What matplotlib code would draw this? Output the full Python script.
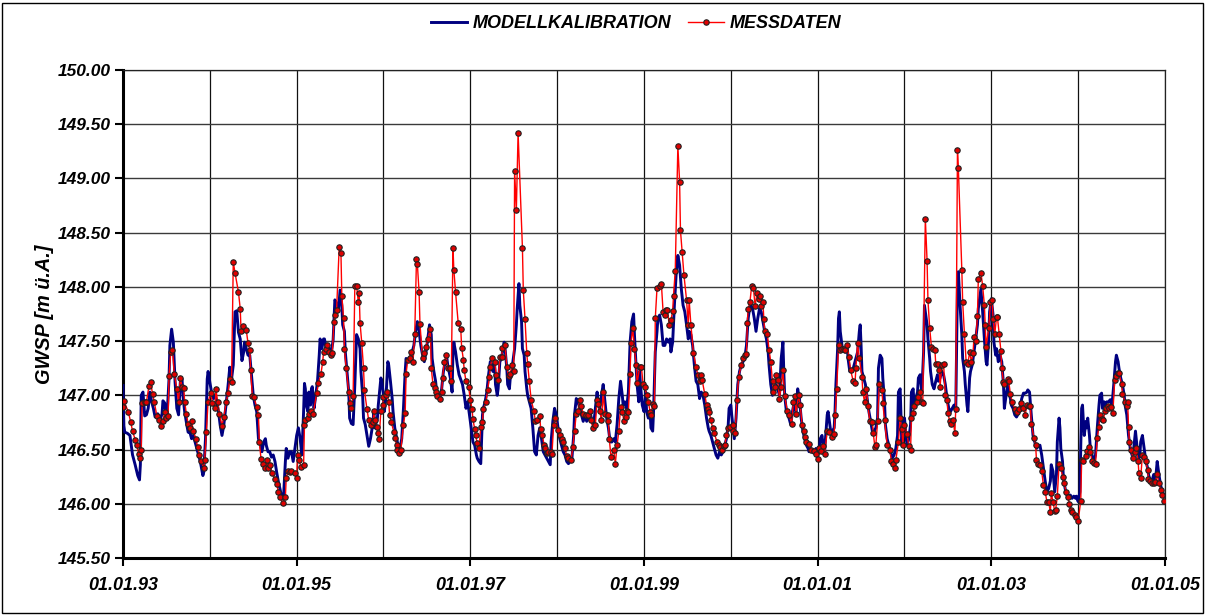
import numpy as np
import matplotlib
matplotlib.use('Agg')
import matplotlib.pyplot as plt
import matplotlib.dates as mdates
from matplotlib.patches import Rectangle
from matplotlib.ticker import FixedLocator, FormatStrFormatter
from datetime import datetime

plt.rcParams['font.family'] = ['Liberation Sans', 'DejaVu Sans']

# Grundwasserstand [m ü.A.] - (Jahr als Dezimalzahl, Wert)
messdaten = [
    (1993.00, 146.89), (1993.01, 146.95), (1993.06, 146.85), (1993.09, 146.75), (1993.11, 146.67),
    (1993.14, 146.59), (1993.16, 146.54), (1993.18, 146.46), (1993.20, 146.42), (1993.21, 146.50),
    (1993.22, 146.93), (1993.25, 146.94), (1993.27, 146.94), (1993.30, 147.09), (1993.32, 147.12),
    (1993.34, 147.01), (1993.36, 146.94), (1993.39, 146.81), (1993.42, 146.77), (1993.44, 146.72),
    (1993.46, 146.76), (1993.48, 146.85), (1993.50, 146.79), (1993.52, 146.81), (1993.53, 147.18),
    (1993.55, 147.40), (1993.57, 147.42), (1993.59, 147.20), (1993.62, 147.06), (1993.64, 146.94),
    (1993.66, 147.16), (1993.68, 147.08), (1993.70, 147.07), (1993.71, 146.94), (1993.73, 146.83),
    (1993.75, 146.74), (1993.77, 146.70), (1993.79, 146.76), (1993.81, 146.67), (1993.84, 146.60),
    (1993.86, 146.52), (1993.88, 146.45), (1993.90, 146.39), (1993.93, 146.33), (1993.94, 146.40),
    (1993.96, 146.66), (1993.98, 146.94), (1994.01, 147.02), (1994.03, 146.93), (1994.06, 146.88),
    (1994.07, 147.06), (1994.09, 146.94), (1994.11, 146.83), (1994.14, 146.72), (1994.16, 146.80),
    (1994.19, 146.94), (1994.21, 147.02), (1994.23, 147.15), (1994.25, 147.12), (1994.27, 148.23),
    (1994.29, 148.13), (1994.33, 147.95), (1994.35, 147.80), (1994.36, 147.59), (1994.38, 147.64),
    (1994.42, 147.60), (1994.44, 147.48), (1994.46, 147.42), (1994.47, 147.23), (1994.49, 146.99),
    (1994.51, 146.98), (1994.54, 146.89), (1994.56, 146.82), (1994.57, 146.57), (1994.59, 146.41),
    (1994.61, 146.37), (1994.64, 146.33), (1994.66, 146.40), (1994.67, 146.33), (1994.69, 146.36),
    (1994.72, 146.28), (1994.75, 146.23), (1994.77, 146.18), (1994.79, 146.11), (1994.81, 146.06),
    (1994.84, 146.01), (1994.87, 146.06), (1994.88, 146.24), (1994.90, 146.30), (1994.92, 146.29),
    (1994.94, 146.30), (1994.98, 146.28), (1995.00, 146.24), (1995.01, 146.45), (1995.03, 146.40),
    (1995.05, 146.34), (1995.08, 146.36), (1995.09, 146.73), (1995.10, 146.77), (1995.13, 146.79),
    (1995.14, 146.83), (1995.16, 146.86), (1995.19, 146.83), (1995.23, 147.02), (1995.25, 147.11),
    (1995.28, 147.20), (1995.30, 147.31), (1995.31, 147.40), (1995.34, 147.43), (1995.35, 147.46),
    (1995.37, 147.40), (1995.39, 147.37), (1995.41, 147.39), (1995.43, 147.68), (1995.44, 147.74),
    (1995.46, 147.79), (1995.49, 148.37), (1995.51, 148.31), (1995.52, 147.92), (1995.54, 147.71),
    (1995.55, 147.43), (1995.57, 147.25), (1995.60, 147.03), (1995.62, 146.93), (1995.63, 146.88),
    (1995.65, 146.99), (1995.67, 148.01), (1995.69, 148.01), (1995.71, 147.86), (1995.72, 147.94),
    (1995.73, 147.67), (1995.75, 147.48), (1995.77, 147.25), (1995.78, 147.05), (1995.81, 146.87),
    (1995.83, 146.77), (1995.86, 146.73), (1995.88, 146.75), (1995.89, 146.86), (1995.90, 146.77),
    (1995.92, 146.71), (1995.94, 146.65), (1995.95, 146.60), (1995.97, 146.86), (1995.99, 146.91),
    (1996.00, 146.98), (1996.03, 147.00), (1996.04, 147.03), (1996.06, 146.94), (1996.07, 146.82),
    (1996.09, 146.75), (1996.12, 146.66), (1996.13, 146.61), (1996.15, 146.54), (1996.16, 146.50),
    (1996.18, 146.47), (1996.20, 146.50), (1996.23, 146.73), (1996.25, 146.84), (1996.26, 147.20),
    (1996.28, 147.33), (1996.30, 147.34), (1996.32, 147.40), (1996.34, 147.31), (1996.36, 147.57),
    (1996.38, 148.26), (1996.39, 148.21), (1996.41, 147.95), (1996.42, 147.66), (1996.45, 147.34),
    (1996.47, 147.39), (1996.49, 147.45), (1996.51, 147.52), (1996.54, 147.61), (1996.55, 147.25),
    (1996.57, 147.10), (1996.59, 147.07), (1996.61, 147.03), (1996.62, 146.99), (1996.65, 146.97),
    (1996.67, 147.03), (1996.68, 147.16), (1996.70, 147.31), (1996.72, 147.37), (1996.74, 147.25),
    (1996.77, 147.25), (1996.78, 147.13), (1996.80, 148.36), (1996.81, 148.16), (1996.83, 147.95),
    (1996.86, 147.67), (1996.89, 147.61), (1996.90, 147.44), (1996.92, 147.33), (1996.93, 147.23),
    (1996.95, 147.13), (1996.98, 147.08), (1997.00, 146.96), (1997.02, 146.87), (1997.03, 146.78),
    (1997.05, 146.69), (1997.06, 146.63), (1997.08, 146.56), (1997.10, 146.51), (1997.12, 146.71),
    (1997.14, 146.75), (1997.15, 146.87), (1997.18, 146.94), (1997.20, 147.05), (1997.22, 147.17),
    (1997.23, 147.26), (1997.25, 147.34), (1997.28, 147.31), (1997.30, 147.19), (1997.32, 147.14),
    (1997.34, 147.35), (1997.36, 147.35), (1997.37, 147.44), (1997.40, 147.46), (1997.42, 147.26),
    (1997.44, 147.18), (1997.46, 147.20), (1997.48, 147.28), (1997.50, 147.22), (1997.51, 149.07),
    (1997.53, 148.71), (1997.55, 149.42), (1997.60, 148.36), (1997.61, 147.97), (1997.63, 147.70),
    (1997.65, 147.39), (1997.66, 147.29), (1997.68, 147.13), (1997.70, 146.96), (1997.73, 146.86),
    (1997.75, 146.76), (1997.77, 146.77), (1997.80, 146.81), (1997.81, 146.69), (1997.83, 146.63),
    (1997.85, 146.54), (1997.86, 146.51), (1997.88, 146.47), (1997.90, 146.48), (1997.93, 146.48),
    (1997.94, 146.46), (1997.96, 146.73), (1997.98, 146.79), (1998.01, 146.68), (1998.03, 146.63),
    (1998.05, 146.60), (1998.07, 146.57), (1998.09, 146.51), (1998.11, 146.44), (1998.13, 146.42),
    (1998.16, 146.40), (1998.18, 146.52), (1998.20, 146.67), (1998.22, 146.83), (1998.24, 146.86),
    (1998.26, 146.96), (1998.28, 146.90), (1998.30, 146.83), (1998.33, 146.82), (1998.35, 146.82),
    (1998.38, 146.86), (1998.39, 146.77), (1998.41, 146.70), (1998.44, 146.73), (1998.46, 146.96),
    (1998.47, 146.92), (1998.49, 146.86), (1998.51, 146.77), (1998.53, 147.03), (1998.55, 146.83),
    (1998.58, 146.82), (1998.59, 146.76), (1998.60, 146.60), (1998.62, 146.43), (1998.65, 146.50),
    (1998.67, 146.37), (1998.69, 146.54), (1998.71, 146.67), (1998.73, 146.89), (1998.75, 146.85),
    (1998.77, 146.76), (1998.79, 146.80), (1998.80, 146.86), (1998.82, 146.85), (1998.84, 147.20),
    (1998.85, 147.48), (1998.87, 147.62), (1998.89, 147.43), (1998.91, 147.28), (1998.92, 147.11),
    (1998.95, 147.26), (1998.97, 147.26), (1998.99, 147.10), (1999.01, 147.08), (1999.03, 147.00),
    (1999.05, 146.94), (1999.07, 146.85), (1999.08, 146.82), (1999.10, 146.92), (1999.12, 146.90),
    (1999.13, 147.71), (1999.15, 147.99), (1999.18, 148.01), (1999.20, 148.03), (1999.22, 147.77),
    (1999.24, 147.74), (1999.25, 147.79), (1999.27, 147.79), (1999.29, 147.65), (1999.31, 147.69),
    (1999.33, 147.78), (1999.34, 147.92), (1999.36, 148.15), (1999.39, 149.30), (1999.41, 148.97),
    (1999.42, 148.52), (1999.44, 148.32), (1999.46, 148.11), (1999.49, 147.88), (1999.51, 147.65),
    (1999.52, 147.88), (1999.54, 147.65), (1999.57, 147.39), (1999.60, 147.26), (1999.62, 147.19),
    (1999.64, 147.13), (1999.66, 147.19), (1999.67, 147.14), (1999.70, 147.01), (1999.72, 146.91),
    (1999.74, 146.87), (1999.75, 146.85), (1999.77, 146.77), (1999.79, 146.70), (1999.81, 146.65),
    (1999.84, 146.57), (1999.86, 146.54), (1999.87, 146.52), (1999.90, 146.50), (1999.92, 146.53),
    (1999.93, 146.54), (1999.95, 146.63), (1999.97, 146.70), (1999.99, 146.71), (2000.02, 146.73),
    (2000.03, 146.67), (2000.05, 146.65), (2000.07, 146.96), (2000.09, 147.17), (2000.12, 147.28),
    (2000.14, 147.34), (2000.16, 147.37), (2000.18, 147.38), (2000.19, 147.67), (2000.20, 147.80),
    (2000.22, 147.86), (2000.24, 148.01), (2000.26, 147.99), (2000.28, 147.82), (2000.30, 147.94),
    (2000.32, 147.89), (2000.34, 147.92), (2000.35, 147.82), (2000.37, 147.86), (2000.38, 147.70),
    (2000.39, 147.59), (2000.42, 147.57), (2000.44, 147.42), (2000.46, 147.31), (2000.48, 147.13),
    (2000.49, 147.03), (2000.51, 147.08), (2000.52, 147.19), (2000.54, 147.14), (2000.56, 146.97),
    (2000.58, 147.08), (2000.60, 147.23), (2000.62, 146.99), (2000.65, 146.86), (2000.67, 146.82),
    (2000.70, 146.74), (2000.72, 146.94), (2000.74, 146.99), (2000.75, 146.83), (2000.78, 147.00),
    (2000.80, 146.91), (2000.82, 146.73), (2000.84, 146.67), (2000.85, 146.62), (2000.87, 146.57),
    (2000.90, 146.55), (2000.92, 146.50), (2000.96, 146.49), (2000.98, 146.46), (2001.00, 146.41),
    (2001.02, 146.51), (2001.04, 146.49), (2001.06, 146.53), (2001.08, 146.46), (2001.11, 146.67),
    (2001.13, 146.66), (2001.16, 146.62), (2001.19, 146.64), (2001.20, 146.82), (2001.22, 147.06),
    (2001.24, 147.46), (2001.26, 147.42), (2001.28, 147.43), (2001.30, 147.43), (2001.32, 147.42),
    (2001.34, 147.46), (2001.36, 147.35), (2001.38, 147.23), (2001.41, 147.13), (2001.43, 147.11),
    (2001.44, 147.25), (2001.46, 147.48), (2001.48, 147.34), (2001.51, 147.17), (2001.52, 147.03),
    (2001.54, 146.94), (2001.56, 147.06), (2001.58, 146.90), (2001.60, 146.76), (2001.63, 146.75),
    (2001.64, 146.65), (2001.66, 146.52), (2001.67, 146.54), (2001.69, 146.76), (2001.71, 147.10),
    (2001.74, 147.05), (2001.75, 146.93), (2001.77, 146.77), (2001.80, 146.54), (2001.83, 146.50),
    (2001.85, 146.39), (2001.87, 146.37), (2001.89, 146.33), (2001.90, 146.40), (2001.93, 146.57),
    (2001.95, 146.79), (2001.97, 146.69), (2001.98, 146.54), (2002.00, 146.73), (2002.03, 146.64),
    (2002.05, 146.53), (2002.07, 146.50), (2002.08, 146.79), (2002.10, 146.84), (2002.11, 146.90),
    (2002.14, 146.94), (2002.16, 146.98), (2002.18, 147.03), (2002.20, 146.94), (2002.21, 146.93),
    (2002.24, 148.63), (2002.26, 148.24), (2002.27, 147.88), (2002.29, 147.62), (2002.31, 147.45),
    (2002.33, 147.43), (2002.35, 147.42), (2002.36, 147.29), (2002.39, 147.29), (2002.40, 147.23),
    (2002.41, 147.08), (2002.43, 147.28), (2002.45, 147.29), (2002.47, 147.00), (2002.49, 146.96),
    (2002.50, 146.84), (2002.52, 146.76), (2002.53, 146.74), (2002.56, 146.77), (2002.58, 146.65),
    (2002.59, 146.87), (2002.61, 149.26), (2002.62, 149.10), (2002.66, 148.16), (2002.67, 147.86),
    (2002.69, 147.57), (2002.71, 147.31), (2002.73, 147.29), (2002.75, 147.40), (2002.77, 147.31),
    (2002.79, 147.39), (2002.80, 147.54), (2002.82, 147.50), (2002.84, 147.73), (2002.85, 148.07),
    (2002.88, 148.13), (2002.90, 148.01), (2002.92, 147.83), (2002.93, 147.65), (2002.94, 147.45),
    (2002.97, 147.62), (2002.99, 147.86), (2003.01, 147.88), (2003.02, 147.70), (2003.04, 147.57),
    (2003.06, 147.72), (2003.07, 147.72), (2003.09, 147.57), (2003.11, 147.41), (2003.12, 147.25),
    (2003.14, 147.12), (2003.15, 147.10), (2003.19, 147.15), (2003.20, 147.13), (2003.22, 147.01),
    (2003.24, 146.94), (2003.27, 146.87), (2003.29, 146.85), (2003.32, 146.87), (2003.34, 146.93),
    (2003.37, 146.88), (2003.39, 146.82), (2003.41, 146.91), (2003.43, 146.90), (2003.45, 146.90),
    (2003.46, 146.74), (2003.49, 146.61), (2003.51, 146.54), (2003.52, 146.40), (2003.54, 146.37),
    (2003.56, 146.36), (2003.58, 146.30), (2003.60, 146.17), (2003.62, 146.11), (2003.64, 146.02),
    (2003.66, 146.02), (2003.68, 145.92), (2003.69, 146.10), (2003.71, 146.02), (2003.73, 145.93),
    (2003.74, 145.94), (2003.76, 146.07), (2003.78, 146.37), (2003.80, 146.33), (2003.82, 146.25),
    (2003.84, 146.19), (2003.86, 146.11), (2003.88, 146.06), (2003.90, 146.00), (2003.92, 145.94),
    (2003.93, 145.92), (2003.96, 145.90), (2003.98, 145.88), (2004.00, 145.84), (2004.03, 146.03),
    (2004.04, 146.40), (2004.06, 146.39), (2004.09, 146.44), (2004.10, 146.49), (2004.13, 146.52),
    (2004.14, 146.48), (2004.16, 146.39), (2004.18, 146.38), (2004.20, 146.37), (2004.22, 146.61),
    (2004.24, 146.71), (2004.25, 146.82), (2004.27, 146.78), (2004.29, 146.77), (2004.31, 146.86),
    (2004.32, 146.88), (2004.34, 146.90), (2004.36, 146.88), (2004.38, 146.89), (2004.40, 146.84),
    (2004.42, 147.14), (2004.44, 147.18), (2004.46, 147.21), (2004.47, 147.21), (2004.50, 147.10),
    (2004.51, 147.01), (2004.54, 146.94), (2004.56, 146.90), (2004.57, 146.94), (2004.58, 146.71),
    (2004.59, 146.57), (2004.61, 146.50), (2004.63, 146.42), (2004.65, 146.48), (2004.67, 146.51),
    (2004.69, 146.39), (2004.70, 146.28), (2004.72, 146.24), (2004.74, 146.45), (2004.76, 146.43),
    (2004.78, 146.39), (2004.80, 146.31), (2004.81, 146.23), (2004.83, 146.21), (2004.85, 146.19),
    (2004.87, 146.19), (2004.89, 146.20), (2004.91, 146.27), (2004.93, 146.19), (2004.95, 146.13),
    (2004.97, 146.08), (2004.99, 146.03),
]

modell = [
    (1993.00, 147.09), (1993.01, 146.72), (1993.02, 146.66), (1993.05, 146.65), (1993.08, 146.63),
    (1993.11, 146.45), (1993.14, 146.36), (1993.17, 146.26), (1993.19, 146.22), (1993.20, 146.36),
    (1993.21, 147.00), (1993.23, 147.03), (1993.25, 146.81), (1993.27, 146.82), (1993.29, 146.88),
    (1993.31, 147.03), (1993.33, 146.94), (1993.35, 146.88), (1993.37, 146.80), (1993.40, 146.83),
    (1993.43, 146.78), (1993.45, 146.83), (1993.46, 146.95), (1993.48, 146.93), (1993.50, 146.79),
    (1993.51, 146.85), (1993.53, 147.15), (1993.54, 147.46), (1993.56, 147.61), (1993.58, 147.49),
    (1993.60, 147.12), (1993.62, 146.88), (1993.64, 146.82), (1993.66, 147.12), (1993.68, 147.15),
    (1993.69, 147.00), (1993.71, 146.85), (1993.73, 146.75), (1993.75, 146.66), (1993.77, 146.66),
    (1993.79, 146.60), (1993.81, 146.63), (1993.83, 146.57), (1993.86, 146.48), (1993.89, 146.39),
    (1993.92, 146.26), (1993.93, 146.29), (1993.95, 146.60), (1993.97, 147.15), (1993.98, 147.22),
    (1994.00, 147.12), (1994.02, 147.03), (1994.04, 146.97), (1994.06, 147.00), (1994.08, 146.94),
    (1994.10, 146.85), (1994.12, 146.72), (1994.14, 146.63), (1994.16, 146.72), (1994.17, 146.79),
    (1994.19, 146.94), (1994.21, 147.09), (1994.23, 147.26), (1994.25, 147.15), (1994.27, 147.28),
    (1994.29, 147.77), (1994.31, 147.78), (1994.33, 147.58), (1994.35, 147.52), (1994.37, 147.32),
    (1994.39, 147.40), (1994.40, 147.49), (1994.42, 147.43), (1994.44, 147.37), (1994.46, 147.37),
    (1994.48, 147.18), (1994.50, 147.00), (1994.52, 146.91), (1994.54, 146.85), (1994.56, 146.60),
    (1994.58, 146.56), (1994.60, 146.48), (1994.62, 146.57), (1994.64, 146.60), (1994.65, 146.54),
    (1994.67, 146.48), (1994.69, 146.48), (1994.71, 146.43), (1994.73, 146.45), (1994.75, 146.39),
    (1994.77, 146.29), (1994.79, 146.20), (1994.81, 146.13), (1994.83, 146.05), (1994.85, 146.08),
    (1994.87, 146.39), (1994.88, 146.51), (1994.90, 146.42), (1994.92, 146.48),
    (1994.94, 146.48), (1994.96, 146.39), (1994.98, 146.51), (1995.00, 146.63), (1995.02, 146.70),
    (1995.04, 146.60), (1995.06, 146.45), (1995.08, 146.85), (1995.09, 147.11), (1995.10, 147.06),
    (1995.11, 146.91), (1995.13, 146.85), (1995.14, 147.03), (1995.16, 146.91), (1995.17, 147.06),
    (1995.18, 147.08), (1995.20, 146.88), (1995.22, 147.00), (1995.24, 147.13), (1995.26, 147.37),
    (1995.27, 147.52), (1995.29, 147.43), (1995.31, 147.52), (1995.32, 147.52), (1995.34, 147.43),
    (1995.36, 147.39), (1995.38, 147.43), (1995.40, 147.40), (1995.42, 147.51), (1995.44, 147.88),
    (1995.46, 147.85), (1995.48, 147.77), (1995.50, 147.97), (1995.52, 147.83), (1995.53, 147.65),
    (1995.55, 147.59), (1995.56, 147.40), (1995.58, 147.22), (1995.60, 147.03), (1995.61, 146.79),
    (1995.63, 146.74), (1995.65, 146.73), (1995.67, 147.10), (1995.69, 147.56), (1995.71, 147.52),
    (1995.73, 147.43), (1995.74, 147.22), (1995.76, 147.00), (1995.77, 146.79), (1995.79, 146.73),
    (1995.81, 146.63), (1995.83, 146.53), (1995.85, 146.60), (1995.87, 146.70), (1995.89, 146.85),
    (1995.90, 146.70), (1995.93, 146.79), (1995.94, 146.91), (1995.97, 147.16), (1995.98, 147.13),
    (1996.00, 147.00), (1996.01, 146.85), (1996.03, 147.00), (1996.05, 147.31), (1996.06, 147.28),
    (1996.08, 147.13), (1996.10, 146.97), (1996.11, 146.85), (1996.13, 146.70), (1996.16, 146.57),
    (1996.18, 146.48), (1996.19, 146.51), (1996.21, 146.60), (1996.23, 146.88), (1996.25, 147.22),
    (1996.26, 147.34), (1996.28, 147.31), (1996.30, 147.34), (1996.32, 147.37), (1996.34, 147.43),
    (1996.35, 147.46), (1996.37, 147.59), (1996.39, 147.68), (1996.41, 147.59), (1996.43, 147.46),
    (1996.45, 147.37), (1996.47, 147.31), (1996.49, 147.40), (1996.51, 147.52), (1996.53, 147.65),
    (1996.55, 147.56), (1996.56, 147.34), (1996.58, 147.22), (1996.60, 147.13), (1996.61, 147.05),
    (1996.63, 147.00), (1996.65, 146.97), (1996.67, 147.06), (1996.69, 147.22), (1996.71, 147.31),
    (1996.73, 147.34), (1996.74, 147.28), (1996.77, 147.16), (1996.79, 147.03), (1996.80, 147.40),
    (1996.81, 147.49), (1996.83, 147.40), (1996.85, 147.28), (1996.87, 147.19),
    (1996.91, 147.10), (1996.93, 147.00), (1996.95, 146.88), (1996.97, 146.94), (1996.99, 146.82),
    (1997.01, 146.70), (1997.03, 146.57), (1997.05, 146.54), (1997.07, 146.45), (1997.08, 146.42),
    (1997.10, 146.39), (1997.12, 146.37), (1997.14, 146.82), (1997.15, 146.88), (1997.17, 146.94),
    (1997.19, 147.03), (1997.21, 147.19), (1997.23, 147.31), (1997.25, 147.28), (1997.26, 147.22),
    (1997.28, 147.28), (1997.29, 147.10), (1997.31, 147.00), (1997.32, 147.06), (1997.34, 147.31),
    (1997.36, 147.34), (1997.37, 147.40), (1997.39, 147.49), (1997.40, 147.43), (1997.42, 147.25),
    (1997.43, 147.10), (1997.45, 147.06), (1997.46, 147.16), (1997.48, 147.19), (1997.49, 147.31),
    (1997.51, 147.43), (1997.53, 147.65), (1997.54, 147.80), (1997.56, 148.03), (1997.57, 147.83),
    (1997.59, 147.68), (1997.60, 147.43), (1997.62, 147.37), (1997.63, 147.22), (1997.65, 147.06),
    (1997.66, 147.00), (1997.68, 146.94), (1997.70, 146.88), (1997.72, 146.70), (1997.74, 146.48),
    (1997.76, 146.45), (1997.78, 146.63), (1997.80, 146.70), (1997.82, 146.60), (1997.84, 146.48),
    (1997.86, 146.45), (1997.88, 146.42), (1997.90, 146.39), (1997.92, 146.36), (1997.93, 146.57),
    (1997.95, 146.76), (1997.97, 146.88), (1997.99, 146.82), (1998.01, 146.70), (1998.03, 146.60),
    (1998.05, 146.54), (1998.07, 146.48), (1998.09, 146.45), (1998.11, 146.39), (1998.13, 146.37),
    (1998.15, 146.39), (1998.17, 146.42), (1998.19, 146.63), (1998.20, 146.82), (1998.22, 146.97),
    (1998.24, 146.94), (1998.26, 146.88), (1998.28, 146.82), (1998.30, 146.76), (1998.32, 146.82),
    (1998.34, 146.76), (1998.36, 146.79), (1998.38, 146.85), (1998.40, 146.76), (1998.42, 146.73),
    (1998.44, 146.88), (1998.46, 147.03), (1998.47, 146.94), (1998.49, 146.88), (1998.51, 147.00),
    (1998.53, 147.10), (1998.55, 146.94), (1998.57, 146.79), (1998.59, 146.70), (1998.61, 146.57),
    (1998.63, 146.57), (1998.65, 146.60), (1998.67, 146.57), (1998.69, 146.73), (1998.71, 146.97),
    (1998.73, 147.13), (1998.75, 147.00), (1998.76, 146.91), (1998.78, 146.94), (1998.80, 146.88),
    (1998.82, 147.03), (1998.84, 147.49), (1998.86, 147.68), (1998.88, 147.75), (1998.89, 147.56),
    (1998.91, 147.25), (1998.92, 147.10), (1998.94, 146.94),
    (1998.95, 147.22), (1998.96, 147.10), (1998.98, 146.91), (1999.00, 146.85), (1999.02, 147.03),
    (1999.03, 146.85), (1999.05, 146.79), (1999.07, 146.85), (1999.08, 146.70), (1999.10, 146.67),
    (1999.11, 146.85), (1999.13, 147.40), (1999.15, 147.59), (1999.16, 147.71), (1999.18, 147.74),
    (1999.20, 147.65), (1999.22, 147.46), (1999.24, 147.46), (1999.26, 147.52), (1999.28, 147.49),
    (1999.30, 147.52), (1999.31, 147.40), (1999.33, 147.49), (1999.35, 147.83), (1999.37, 148.11),
    (1999.39, 148.29), (1999.41, 148.20), (1999.43, 147.98), (1999.45, 147.83), (1999.47, 147.77),
    (1999.49, 147.65), (1999.51, 147.52), (1999.52, 147.59), (1999.54, 147.56), (1999.56, 147.46),
    (1999.58, 147.28), (1999.60, 147.13), (1999.62, 147.10), (1999.64, 146.97), (1999.66, 147.03),
    (1999.68, 147.00), (1999.70, 146.91), (1999.72, 146.79), (1999.74, 146.70), (1999.75, 146.67),
    (1999.77, 146.63), (1999.79, 146.57), (1999.81, 146.51), (1999.83, 146.45), (1999.85, 146.42),
    (1999.87, 146.48), (1999.89, 146.45), (1999.91, 146.48), (1999.93, 146.54), (1999.95, 146.60),
    (1999.97, 146.73), (1999.98, 146.88), (2000.00, 146.91), (2000.01, 146.82), (2000.03, 146.67),
    (2000.04, 146.60), (2000.06, 146.79), (2000.08, 147.10), (2000.10, 147.22), (2000.12, 147.28),
    (2000.14, 147.31), (2000.16, 147.34), (2000.18, 147.46), (2000.20, 147.71), (2000.21, 147.77),
    (2000.23, 147.83), (2000.25, 147.80), (2000.27, 147.71), (2000.29, 147.59), (2000.31, 147.71),
    (2000.33, 147.80), (2000.35, 147.77), (2000.37, 147.68), (2000.39, 147.59), (2000.41, 147.52),
    (2000.43, 147.40), (2000.44, 147.28), (2000.46, 147.10), (2000.48, 147.00), (2000.50, 147.03),
    (2000.52, 147.10), (2000.54, 147.06), (2000.56, 147.00), (2000.58, 147.34), (2000.60, 147.49),
    (2000.61, 147.22), (2000.62, 147.00), (2000.64, 146.85), (2000.66, 146.82), (2000.67, 146.79),
    (2000.69, 146.73), (2000.71, 146.85), (2000.73, 146.94), (2000.75, 146.85), (2000.77, 147.06),
    (2000.79, 146.97), (2000.81, 146.79), (2000.83, 146.67), (2000.85, 146.60), (2000.87, 146.54),
    (2000.89, 146.51), (2000.90, 146.48),
    (2000.92, 146.51), (2000.94, 146.48), (2000.96, 146.47), (2000.98, 146.51), (2001.00, 146.45),
    (2001.02, 146.51), (2001.03, 146.60), (2001.05, 146.63), (2001.06, 146.56), (2001.08, 146.48),
    (2001.09, 146.60), (2001.11, 146.82), (2001.12, 146.85), (2001.14, 146.73), (2001.15, 146.67),
    (2001.17, 146.67), (2001.19, 146.70), (2001.20, 146.85), (2001.21, 147.10), (2001.23, 147.43),
    (2001.24, 147.71), (2001.25, 147.77), (2001.26, 147.59), (2001.28, 147.46), (2001.29, 147.43),
    (2001.31, 147.40), (2001.32, 147.40), (2001.34, 147.46), (2001.35, 147.34), (2001.37, 147.22),
    (2001.38, 147.22), (2001.40, 147.22), (2001.42, 147.28), (2001.44, 147.34), (2001.46, 147.40),
    (2001.48, 147.59), (2001.49, 147.65), (2001.50, 147.46), (2001.51, 147.22), (2001.53, 147.16),
    (2001.55, 147.10), (2001.57, 146.97), (2001.59, 146.85), (2001.61, 146.76), (2001.63, 146.67),
    (2001.65, 146.67), (2001.67, 146.70), (2001.69, 146.79), (2001.70, 147.25), (2001.72, 147.37),
    (2001.74, 147.34), (2001.75, 147.16), (2001.77, 146.94), (2001.78, 146.73), (2001.80, 146.60),
    (2001.82, 146.54), (2001.84, 146.48), (2001.86, 146.42), (2001.88, 146.45), (2001.90, 146.51),
    (2001.92, 146.63), (2001.93, 147.03), (2001.95, 147.06), (2001.96, 146.79), (2001.97, 146.54),
    (2001.99, 146.79), (2002.00, 146.79), (2002.02, 146.60), (2002.03, 146.54), (2002.05, 146.60),
    (2002.07, 146.73), (2002.08, 147.03), (2002.10, 147.06), (2002.11, 146.91), (2002.13, 146.97),
    (2002.15, 147.03), (2002.16, 147.16), (2002.18, 147.19), (2002.20, 147.03), (2002.22, 147.40),
    (2002.23, 147.83), (2002.24, 147.77), (2002.26, 147.65), (2002.27, 147.52), (2002.29, 147.34),
    (2002.30, 147.22), (2002.32, 147.10), (2002.34, 147.06), (2002.36, 147.13), (2002.38, 147.19),
    (2002.39, 147.13), (2002.41, 147.16), (2002.43, 147.22), (2002.45, 147.19), (2002.47, 147.10),
    (2002.49, 146.97), (2002.51, 146.88), (2002.53, 146.85), (2002.55, 146.88), (2002.57, 146.91),
    (2002.59, 146.85), (2002.60, 147.40), (2002.61, 148.02), (2002.62, 148.14), (2002.64, 147.83),
    (2002.66, 147.56), (2002.67, 147.34), (2002.69, 147.22), (2002.70, 147.10), (2002.72, 146.91),
    (2002.73, 146.85), (2002.75, 147.16), (2002.76, 147.22), (2002.78, 147.28), (2002.80, 147.40),
    (2002.82, 147.52), (2002.84, 147.65), (2002.85, 147.80), (2002.87, 147.92),
    (2002.88, 147.98), (2002.90, 147.77), (2002.92, 147.52), (2002.94, 147.31), (2002.95, 147.28),
    (2002.97, 147.52), (2002.98, 147.77), (2003.00, 147.89), (2003.02, 147.74), (2003.03, 147.49),
    (2003.05, 147.37), (2003.06, 147.43), (2003.08, 147.31), (2003.10, 147.37), (2003.12, 147.31),
    (2003.14, 147.10), (2003.15, 146.88), (2003.17, 147.00), (2003.19, 147.10), (2003.20, 147.03),
    (2003.22, 146.97), (2003.23, 146.91), (2003.25, 146.88), (2003.27, 146.82), (2003.29, 146.80),
    (2003.31, 146.83), (2003.33, 146.88), (2003.35, 146.97), (2003.37, 147.02), (2003.39, 147.02),
    (2003.41, 147.03), (2003.42, 147.05), (2003.44, 147.03), (2003.46, 146.82), (2003.48, 146.63),
    (2003.50, 146.57), (2003.52, 146.51), (2003.54, 146.53), (2003.56, 146.54), (2003.58, 146.45),
    (2003.60, 146.33), (2003.62, 146.21), (2003.64, 146.11), (2003.66, 146.14), (2003.68, 146.21),
    (2003.69, 146.36), (2003.71, 146.30), (2003.72, 146.21), (2003.73, 146.11), (2003.75, 146.27),
    (2003.76, 146.57), (2003.78, 146.79), (2003.79, 146.70), (2003.80, 146.51), (2003.82, 146.39),
    (2003.83, 146.24), (2003.85, 146.14), (2003.87, 146.08), (2003.89, 146.07), (2003.91, 146.08),
    (2003.93, 146.05), (2003.95, 146.07), (2003.97, 146.05), (2003.98, 146.07), (2004.00, 146.02),
    (2004.02, 146.11), (2004.03, 146.54), (2004.04, 146.88), (2004.05, 146.91), (2004.06, 146.76),
    (2004.07, 146.63), (2004.09, 146.76), (2004.10, 146.70), (2004.11, 146.79), (2004.13, 146.63),
    (2004.14, 146.51), (2004.16, 146.45), (2004.18, 146.39), (2004.20, 146.45), (2004.22, 146.70),
    (2004.24, 146.91), (2004.25, 147.00), (2004.27, 147.02), (2004.28, 146.88), (2004.30, 146.94),
    (2004.31, 146.91), (2004.33, 146.94), (2004.35, 146.94), (2004.37, 146.96), (2004.39, 146.91),
    (2004.41, 147.10), (2004.43, 147.31), (2004.44, 147.37), (2004.46, 147.31), (2004.47, 147.25),
    (2004.49, 147.16), (2004.51, 147.10), (2004.53, 147.00), (2004.54, 146.91), (2004.56, 146.82),
    (2004.58, 146.63), (2004.60, 146.51), (2004.62, 146.45), (2004.64, 146.51), (2004.66, 146.67),
    (2004.68, 146.51), (2004.69, 146.39), (2004.71, 146.45), (2004.72, 146.57), (2004.74, 146.63),
    (2004.75, 146.57), (2004.77, 146.45), (2004.78, 146.39), (2004.80, 146.33), (2004.81, 146.27),
    (2004.83, 146.21), (2004.85, 146.21), (2004.87, 146.27), (2004.89, 146.21), (2004.91, 146.39),
    (2004.93, 146.27), (2004.95, 146.17), (2004.97, 146.11), (2004.99, 146.08),
]

y_ticks = [145.5, 146.0, 146.5, 147.0, 147.5, 148.0, 148.5, 149.0, 149.5, 150.0]
beschriftete_jahre = [1993, 1995, 1997, 1999, 2001, 2003, 2005]
alle_jahre = list(range(1993, 2006))
start, ende = datetime(1993, 1, 1), datetime(2005, 1, 1)


def jahr_to_num(jahre):
    # Dezimaljahr -> matplotlib Datumszahl
    basis = mdates.date2num(start)
    return basis + (np.asarray(jahre) - 1993.0) * 365.25


def jahresanfang(jahre):
    return [mdates.date2num(datetime(j, 1, 1)) for j in jahre]


mess_t, mess_v = np.array(messdaten).T
mod_t, mod_v = np.array(modell).T

fig = plt.figure(figsize=(12.07, 6.15), dpi=100)
ax = fig.add_axes([0.1019, 0.0927, 0.8633, 0.7935])

ax.plot(jahr_to_num(mod_t), mod_v, color='#000080', lw=2.1, label='MODELLKALIBRATION', zorder=3)
ax.plot(jahr_to_num(mess_t), mess_v, color='#ff0000', lw=1.0, marker='o', markersize=3.9,
        markerfacecolor='#e00000', markeredgecolor='#202020', markeredgewidth=0.8,
        label='MESSDATEN', zorder=4)

ax.set_xlim(mdates.date2num(start), mdates.date2num(ende))
ax.set_ylim(145.5, 150.0)

# Beschriftung alle zwei Jahre (ungerade), Gitter jedes Jahr
ax.xaxis.set_major_locator(FixedLocator(jahresanfang(beschriftete_jahre)))
ax.xaxis.set_minor_locator(FixedLocator(jahresanfang(alle_jahre)))
ax.xaxis.set_major_formatter(mdates.DateFormatter('%d.%m.%y'))
ax.set_yticks(y_ticks)
ax.yaxis.set_major_formatter(FormatStrFormatter('%.2f'))

ax.grid(True, which='major', axis='y', color='#3a3a3a', lw=1.0)
ax.grid(True, which='both', axis='x', color='#111111', lw=0.9)
ax.set_axisbelow(True)

for side in ['left', 'bottom']:
    ax.spines[side].set_linewidth(2.2)
    ax.spines[side].set_color('black')
for side in ['top', 'right']:
    ax.spines[side].set_linewidth(0.9)
    ax.spines[side].set_color('#222222')

ax.tick_params(axis='both', which='major', direction='out', length=6, width=1.5, color='black')
ax.tick_params(axis='x', which='minor', length=0)
ax.tick_params(axis='y', pad=3)
ax.tick_params(axis='x', pad=8)

for lbl in ax.get_yticklabels():
    lbl.set_fontsize(12.5)
    lbl.set_fontweight('bold')
    lbl.set_fontstyle('italic')
for lbl in ax.get_xticklabels():
    lbl.set_fontsize(13)
    lbl.set_fontweight('bold')
    lbl.set_fontstyle('italic')

ax.set_ylabel('GWSP [m ü.A.]', fontsize=14.3, fontweight='bold', fontstyle='italic')
ax.yaxis.set_label_coords(-0.066, 0.5)

leg = fig.legend(loc='center', bbox_to_anchor=(0.527, 0.962), ncol=2, frameon=False,
                 handlelength=2.0, handletextpad=0.3, columnspacing=0.9,
                 prop={'size': 13, 'weight': 'bold', 'style': 'italic'})

# Rahmen um die ganze Grafik
fig.patches.append(Rectangle((0.002, 0.004), 0.995, 0.991, transform=fig.transFigure,
                             fill=False, edgecolor='black', lw=1.0))

fig.savefig('out.png', dpi=100)
